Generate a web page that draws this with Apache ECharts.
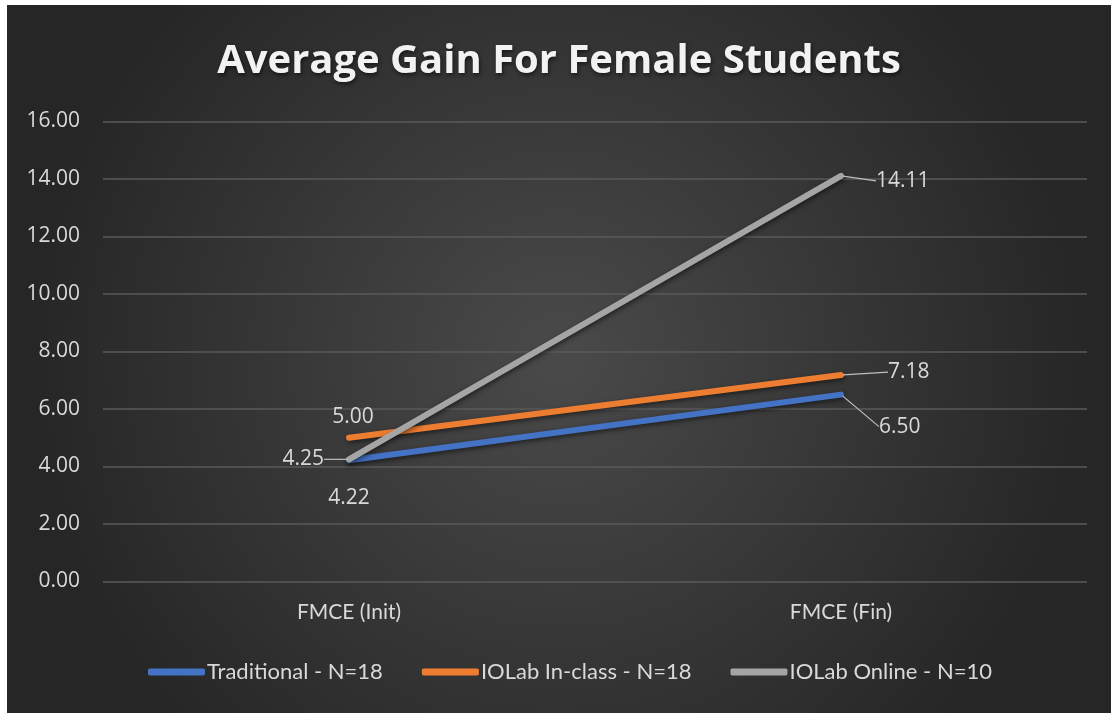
<!DOCTYPE html>
<html>
<head>
<meta charset="utf-8">
<script src="https://cdn.jsdelivr.net/npm/echarts@6/dist/echarts.min.js"></script>
<style>
  html, body { margin: 0; padding: 0; background: #ffffff; width: 1111px; height: 713px; overflow: hidden; }
  #chart { position: absolute; left: 7px; top: 5px; width: 1104px; height: 708px; }
</style>
</head>
<body>
<div id="chart"></div>
<script>
// ---- data ----
const titleText = 'Average Gain For Female Students';
const categories = ['FMCE (Init)', 'FMCE (Fin)'];
const seriesNames = ['Traditional - N=18', 'IOLab In-class - N=18', 'IOLab Online - N=10'];
const traditional = [4.22, 6.50];
const iolabInClass = [5.00, 7.18];
const iolabOnline = [4.25, 14.11];
const yTicks = [0, 2, 4, 6, 8, 10, 12, 14, 16];

// ---- styling / label placement (not data) ----
const colors = ['#4472C4', '#ED7D31', '#A5A5A5'];
// [position, distance, dx, dy, showLeader]
const labelPlacement = [
  [['bottom', 25, 0, 0, false], ['right', 5, 31, 32, true]],
  [['top', 8, 4, 0, false], ['right', 5, 40, -3, true]],
  [['left', 5, -18, 0, true], ['right', 5, 28, 5, true]]
];
const seriesValues = [traditional, iolabInClass, iolabOnline];

const chart = echarts.init(document.getElementById('chart'));

function buildSeries(i) {
  return {
    name: seriesNames[i],
    type: 'line',
    data: seriesValues[i].map((v, j) => {
      const p = labelPlacement[i][j];
      return {
        value: v,
        label: { position: p[0], distance: p[1] },
        labelLine: { show: p[4] }
      };
    }),
    symbol: 'circle',
    symbolSize: 4,
    showSymbol: true,
    itemStyle: { color: colors[i] },
    lineStyle: {
      width: 6,
      color: colors[i],
      cap: 'round',
      shadowColor: 'rgba(0,0,0,0.55)',
      shadowBlur: 5,
      shadowOffsetX: 1,
      shadowOffsetY: 2
    },
    label: {
      show: true,
      formatter: (p) => p.value.toFixed(2),
      color: '#d9d9d9',
      fontFamily: 'Open Sans',
      fontSize: 21
    },
    labelLine: {
      show: true,
      lineStyle: { color: '#bfbfbf', width: 1.2 }
    },
    labelLayout: function (params) {
      const p = labelPlacement[i][params.dataIndex];
      return { dx: p[2], dy: p[3] };
    },
    emphasis: { disabled: true },
    animation: false,
    z: 2 + i
  };
}

chart.setOption({
  backgroundColor: {
    type: 'radial', x: 0.5, y: 0.5, r: 0.75,
    colorStops: [
      { offset: 0, color: '#4a4a4a' },
      { offset: 1, color: '#262626' }
    ]
  },
  animation: false,
  title: {
    text: titleText,
    left: 'center',
    top: 37,
    padding: 0,
    textStyle: {
      color: '#f2f2f2',
      fontFamily: 'Open Sans',
      fontWeight: 'bold',
      fontSize: 40,
      textShadowColor: 'rgba(0,0,0,0.6)',
      textShadowBlur: 4,
      textShadowOffsetX: 1,
      textShadowOffsetY: 2
    }
  },
  grid: { left: 96, right: 24, top: 116.5, bottom: 131.5, containLabel: false },
  legend: {
    data: seriesNames,
    bottom: 'auto',
    top: 656,
    left: 141,
    padding: 0,
    icon: 'roundRect',
    itemWidth: 57,
    itemHeight: 7,
    itemGap: 39,
    textStyle: { color: '#d9d9d9', fontFamily: 'Lato', fontSize: 22, padding: [0, 0, 0, -3] }
  },
  xAxis: {
    type: 'category',
    data: categories,
    boundaryGap: true,
    axisLine: { show: false },
    axisTick: { show: false },
    axisLabel: { color: '#d9d9d9', fontFamily: 'Lato', fontSize: 21, margin: 20 },
    splitLine: { show: false }
  },
  yAxis: {
    type: 'value',
    min: 0, max: 16, interval: 2,
    axisLine: { show: false },
    axisTick: { show: false },
    axisLabel: {
      color: '#d9d9d9', fontFamily: 'Open Sans', fontSize: 21, margin: 23,
      formatter: (v) => v.toFixed(2)
    },
    splitLine: { lineStyle: { color: '#5a5a5a', width: 1.5 } }
  },
  series: [0, 1, 2].map(buildSeries)
});
</script>
</body>
</html>
